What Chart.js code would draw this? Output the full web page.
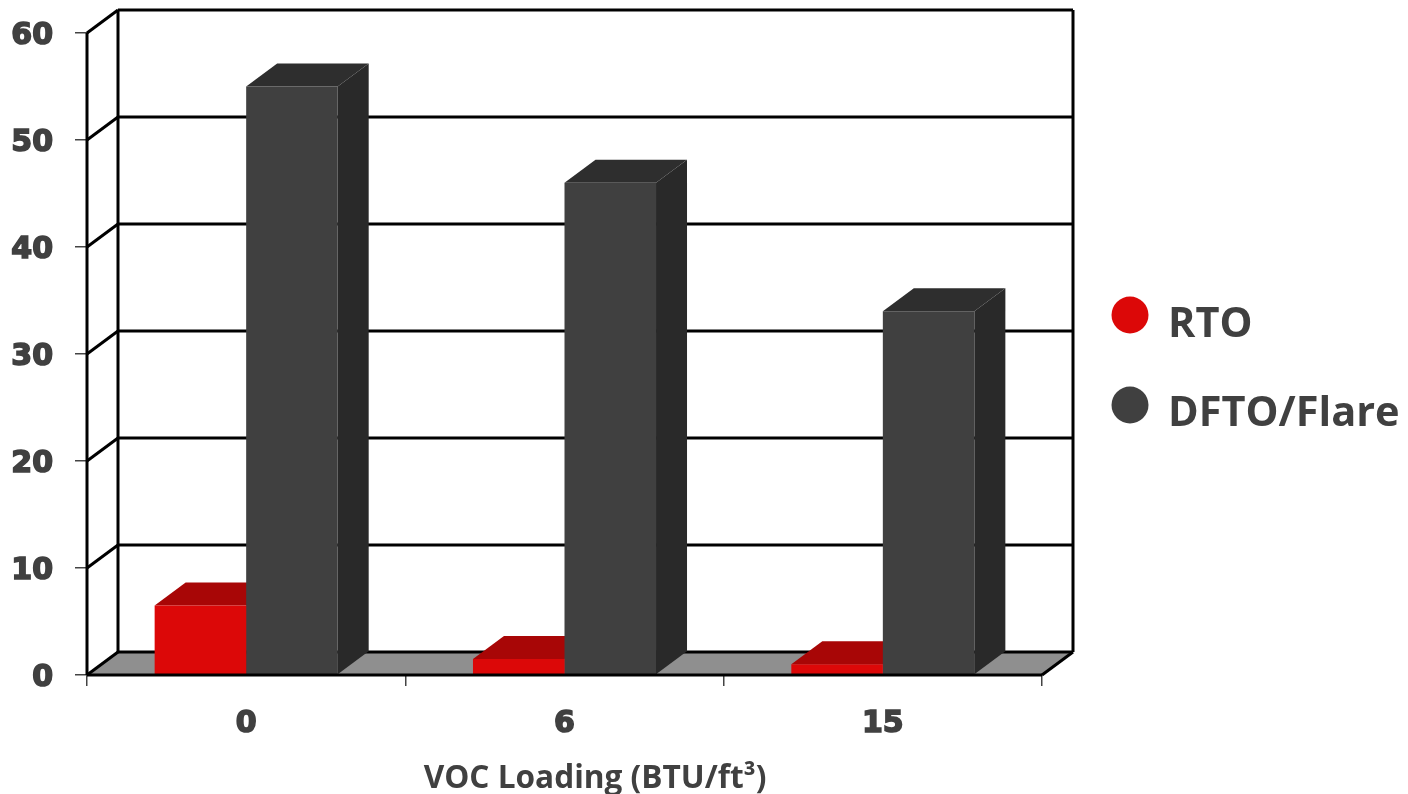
<!DOCTYPE html>
<html>
<head>
<meta charset="utf-8">
<style>
  html, body { margin: 0; padding: 0; background: #fff; }
  #wrap { width: 1408px; height: 794px; }
</style>
<script src="https://cdn.jsdelivr.net/npm/chart.js@4"></script>
</head>
<body>
<div id="wrap"><canvas id="chart" width="1408" height="794"></canvas></div>
<script>
// Chart data
const categories = ['0', '6', '15'];
const rtoValues = [6.5, 1.5, 1];
const dftoValues = [55, 46, 34];
const seriesNames = ['RTO', 'DFTO/Flare'];
const axisTitle = 'VOC Loading (BTU/ft³)';

// Colours for each series: front, top and side faces
const faces = [
  { front: '#DC0808', top: '#A80606', side: '#8A0505' },
  { front: '#404040', top: '#2E2E2E', side: '#292929' }
];
const textColor = '#404040';
const depthX = 31, depthY = 23;

function line(ctx, x1, y1, x2, y2) {
  ctx.beginPath(); ctx.moveTo(x1, y1); ctx.lineTo(x2, y2); ctx.stroke();
}

// Draws the box walls, floor and grid behind the bars, the extruded bar faces,
// and then the front floor edge, axis title and legend on top.
const box3d = {
  id: 'box3d',
  beforeDatasetsDraw(chart) {
    const { ctx, chartArea: a, scales: { y } } = chart;
    const base = y.getPixelForValue(0);
    ctx.save();
    ctx.fillStyle = '#8F8F8F';
    ctx.beginPath();
    ctx.moveTo(a.left, base);
    ctx.lineTo(a.left + depthX, base - depthY);
    ctx.lineTo(a.right + depthX, base - depthY);
    ctx.lineTo(a.right, base);
    ctx.closePath();
    ctx.fill();

    ctx.strokeStyle = '#000';
    ctx.lineWidth = 3;
    y.ticks.forEach(t => {
      const py = y.getPixelForValue(t.value);
      line(ctx, a.left, py, a.left + depthX, py - depthY);
      line(ctx, a.left + depthX, py - depthY, a.right + depthX, py - depthY);
    });
    line(ctx, a.left, a.top, a.left, base);
    line(ctx, a.left + depthX, a.top - depthY, a.left + depthX, base - depthY);
    line(ctx, a.right + depthX, a.top - depthY, a.right + depthX, base - depthY);
    line(ctx, a.right, base, a.right + depthX, base - depthY);

    chart.data.datasets.forEach((ds, i) => {
      chart.getDatasetMeta(i).data.forEach(bar => {
        const l = bar.x - bar.width / 2, r = bar.x + bar.width / 2;
        ctx.fillStyle = faces[i].side;
        ctx.beginPath();
        ctx.moveTo(r, bar.y);
        ctx.lineTo(r + depthX, bar.y - depthY);
        ctx.lineTo(r + depthX, bar.base - depthY);
        ctx.lineTo(r, bar.base);
        ctx.closePath();
        ctx.fill();
        ctx.fillStyle = faces[i].top;
        ctx.beginPath();
        ctx.moveTo(l, bar.y);
        ctx.lineTo(l + depthX, bar.y - depthY);
        ctx.lineTo(r + depthX, bar.y - depthY);
        ctx.lineTo(r, bar.y);
        ctx.closePath();
        ctx.fill();
      });
    });
    ctx.restore();
  },
  afterDatasetsDraw(chart) {
    const { ctx, chartArea: a, scales: { y } } = chart;
    const base = y.getPixelForValue(0);
    ctx.save();
    ctx.strokeStyle = '#000';
    ctx.lineWidth = 3.2;
    line(ctx, a.left, base, a.right, base);

    ctx.fillStyle = textColor;
    ctx.textBaseline = 'alphabetic';
    ctx.textAlign = 'center';
    ctx.font = 'bold 31.6px "Open Sans"';
    ctx.fillText(axisTitle, 595, 788);

    ctx.textAlign = 'left';
    ctx.font = 'bold 41.5px "Open Sans"';
    const rows = [{ cy: 315, base: 337 }, { cy: 405, base: 426 }];
    seriesNames.forEach((name, i) => {
      ctx.fillStyle = faces[i].front;
      ctx.beginPath();
      ctx.arc(1130, rows[i].cy, 18.5, 0, Math.PI * 2);
      ctx.fill();
      ctx.fillStyle = textColor;
      ctx.fillText(name, 1168, rows[i].base);
    });
    ctx.restore();
  }
};

new Chart(document.getElementById('chart'), {
  type: 'bar',
  data: {
    labels: categories,
    datasets: [
      { label: seriesNames[0], data: rtoValues, backgroundColor: faces[0].front },
      { label: seriesNames[1], data: dftoValues, backgroundColor: faces[1].front }
    ]
  },
  plugins: [box3d],
  options: {
    responsive: false,
    animation: false,
    layout: { padding: { top: 33, right: 366, left: 0, bottom: 0 } },
    plugins: { legend: { display: false }, title: { display: false }, tooltip: { enabled: false } },
    datasets: { bar: { categoryPercentage: 0.575, barPercentage: 1 } },
    scales: {
      x: {
        afterFit(s) { s.height = 119; s.paddingLeft = 0; s.paddingRight = 0; },
        border: { display: false },
        grid: { drawOnChartArea: false, drawTicks: true, tickLength: 11, color: '#444', lineWidth: 1.5, offset: true },
        ticks: {
          color: textColor, padding: 20, maxRotation: 0, textStrokeColor: textColor, textStrokeWidth: 1.6,
          font: { family: '"DejaVu Sans"', weight: 'bold', size: 30 }
        }
      },
      y: {
        min: 0, max: 60,
        afterFit(s) { s.width = 87; s.paddingTop = 0; s.paddingBottom = 0; },
        border: { display: false },
        grid: { drawOnChartArea: false, drawTicks: true, tickLength: 12, color: '#444', lineWidth: 1.5 },
        ticks: {
          stepSize: 10, color: textColor, padding: 22, labelOffset: 3, textStrokeColor: textColor, textStrokeWidth: 1.6,
          font: { family: '"DejaVu Sans"', weight: 'bold', size: 30 }
        }
      }
    }
  }
});
</script>
</body>
</html>
